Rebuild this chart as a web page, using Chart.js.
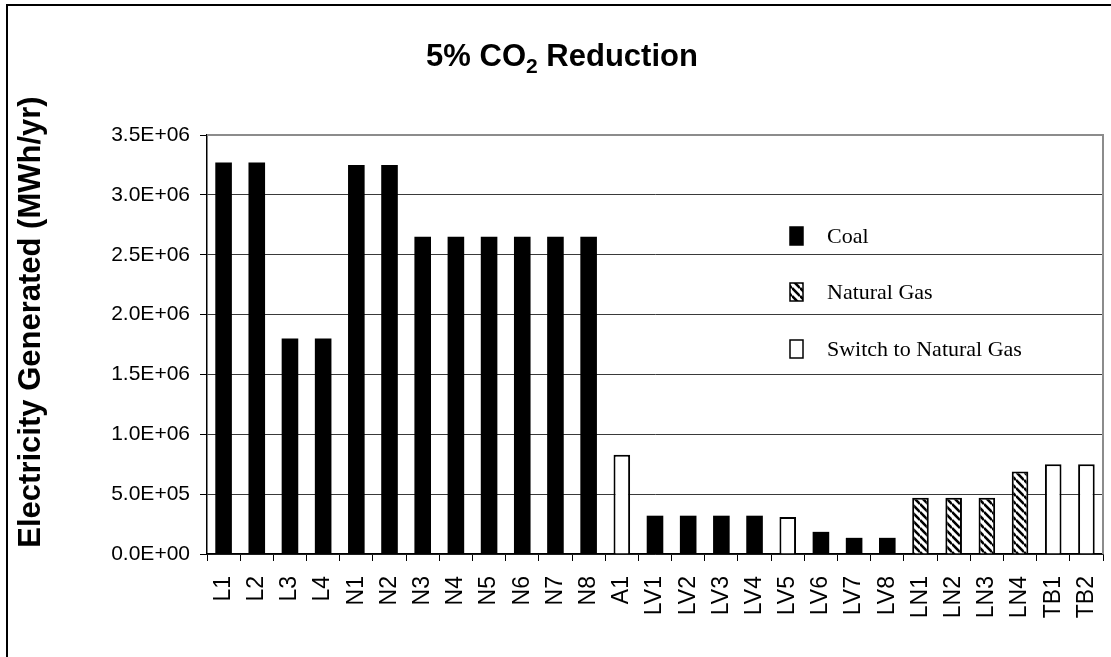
<!DOCTYPE html>
<html>
<head>
<meta charset="utf-8">
<script src="https://cdn.jsdelivr.net/npm/chart.js@4.4.1/dist/chart.umd.min.js"></script>
<style>
    html, body { margin: 0; padding: 0; background: #fff; overflow: hidden; }
    #wrap { position: relative; width: 1111px; height: 657px; }
    #frame { position: absolute; left: 6px; top: 4px; width: 1200px; height: 800px; border-left: 2px solid #000; border-top: 2px solid #000; }
    canvas { position: absolute; left: 0; top: 0; }
</style>
</head>
<body>
<div id="wrap">
    <div id="frame"></div>
    <canvas id="myChart" width="1111" height="657"></canvas>
</div>
<script>
const plants = ['L1', 'L2', 'L3', 'L4', 'N1', 'N2', 'N3', 'N4', 'N5', 'N6', 'N7', 'N8', 'A1',
    'LV1', 'LV2', 'LV3', 'LV4', 'LV5', 'LV6', 'LV7', 'LV8', 'LN1', 'LN2', 'LN3', 'LN4', 'TB1', 'TB2'];
const generated = [3.27e6, 3.27e6, 1.80e6, 1.80e6, 3.25e6, 3.25e6, 2.65e6, 2.65e6, 2.65e6, 2.65e6, 2.65e6, 2.65e6, 8.3e5,
    3.2e5, 3.2e5, 3.2e5, 3.2e5, 3.1e5, 1.85e5, 1.35e5, 1.35e5, 4.7e5, 4.7e5, 4.7e5, 6.9e5, 7.5e5, 7.5e5];
const fuel = ['coal', 'coal', 'coal', 'coal', 'coal', 'coal', 'coal', 'coal', 'coal', 'coal', 'coal', 'coal', 'switch',
    'coal', 'coal', 'coal', 'coal', 'switch', 'coal', 'coal', 'coal', 'gas', 'gas', 'gas', 'gas', 'switch', 'switch'];
const fuelTypes = ['coal', 'gas', 'switch'];
const fuelNames = ['Coal', 'Natural Gas', 'Switch to Natural Gas'];
const yTicks = [0, 5e5, 1e6, 1.5e6, 2e6, 2.5e6, 3e6, 3.5e6];

/**
 * 斜線のパターンを作成します。
 */
const createHatch = (ctx) => {
    const s = 8;
    const c = document.createElement('canvas');
    c.width = s;
    c.height = s;
    const p = c.getContext('2d');
    p.fillStyle = '#fff';
    p.fillRect(0, 0, s, s);
    p.strokeStyle = '#000';
    p.lineWidth = 2.6;
    [-1, 0, 1].forEach((k) => {
        p.beginPath();
        p.moveTo(0, k * s);
        p.lineTo(s, s + k * s);
        p.stroke();
    });
    return ctx.createPattern(c, 'repeat');
};

/**
 * 指数表記のラベルを作成します。
 */
const formatSci = (v) => {
    const parts = Number(v).toExponential(1).split('e');
    const sign = parts[1][0];
    const exp = parts[1].slice(1).padStart(2, '0');
    return parts[0] + 'E' + sign + exp;
};

const canvas = document.getElementById('myChart');
const hatch = createHatch(canvas.getContext('2d'));
const fills = { coal: '#000', gas: hatch, switch: '#fff' };

const datasets = fuelTypes.map((t, i) => ({
    label: fuelNames[i],
    data: generated.map((v, j) => (fuel[j] === t ? v : null)),
    backgroundColor: fills[t],
    borderColor: '#000',
    borderWidth: t === 'coal' ? 0 : 2,
    categoryPercentage: 1,
    barPercentage: 0.5,
}));

// タイトル・軸タイトル・凡例・枠の描画
const decorPlugin = {
    id: 'decor',
    afterDatasetsDraw(chart) {
        const ctx = chart.ctx;
        const a = chart.chartArea;
        ctx.save();
        ctx.strokeStyle = '#8c8c8c';
        ctx.lineWidth = 2;
        ctx.beginPath();
        ctx.moveTo(a.left, a.top);
        ctx.lineTo(a.right, a.top);
        ctx.lineTo(a.right, a.bottom);
        ctx.stroke();
        ctx.restore();
    },
    afterDraw(chart) {
        const ctx = chart.ctx;
        ctx.save();
        ctx.fillStyle = '#000';
        ctx.textBaseline = 'alphabetic';

        // title
        const big = 'bold 31px Arial, "Liberation Sans", sans-serif';
        const small = 'bold 21px Arial, "Liberation Sans", sans-serif';
        const pieces = [['5% CO', big, 0], ['2', small, 7], [' Reduction', big, 0]];
        let total = 0;
        pieces.forEach((p) => { ctx.font = p[1]; total += ctx.measureText(p[0]).width; });
        let x = 562 - total / 2;
        pieces.forEach((p) => {
            ctx.font = p[1];
            ctx.textAlign = 'left';
            ctx.fillText(p[0], x, 66 + p[2]);
            x += ctx.measureText(p[0]).width;
        });

        // y axis title
        ctx.save();
        ctx.translate(40, 322);
        ctx.rotate(-Math.PI / 2);
        ctx.font = 'bold 31px Arial, "Liberation Sans", sans-serif';
        ctx.textAlign = 'center';
        ctx.fillText('Electricity Generated (MWh/yr)', 0, 0);
        ctx.restore();

        // legend
        const legendY = [236, 292, 349];
        chart.data.datasets.forEach((ds, i) => {
            const cy = legendY[i];
            ctx.fillStyle = ds.backgroundColor;
            ctx.fillRect(790, cy - 9, 13, 18);
            ctx.strokeStyle = '#000';
            ctx.lineWidth = 1.5;
            ctx.strokeRect(790, cy - 9, 13, 18);
            ctx.fillStyle = '#000';
            ctx.font = '22px "Times New Roman", "Liberation Serif", serif';
            ctx.textAlign = 'left';
            ctx.textBaseline = 'middle';
            ctx.fillText(ds.label, 827, cy + 1);
        });
        ctx.restore();
    },
};

const chart = new Chart(canvas, {
    type: 'bar',
    data: { labels: plants, datasets: datasets },
    plugins: [decorPlugin],
    options: {
        responsive: false,
        animation: false,
        layout: { padding: { top: 135, right: 8, left: 0, bottom: 0 } },
        plugins: { legend: { display: false }, tooltip: { enabled: false }, title: { display: false } },
        scales: {
            x: {
                stacked: true,
                afterFit: (scale) => {
                    scale.height = 103;
                    scale.paddingLeft = 0;
                    scale.paddingRight = 0;
                },
                grid: { drawOnChartArea: false, offset: true, tickLength: 7, color: '#000', lineWidth: 1 },
                border: { color: '#000', width: 1.5 },
                ticks: {
                    minRotation: 90,
                    maxRotation: 90,
                    autoSkip: false,
                    padding: 15,
                    color: '#000',
                    font: { family: 'Arial, "Liberation Sans", sans-serif', size: 23 },
                },
            },
            y: {
                stacked: true,
                min: 0,
                max: 3.5e6,
                afterFit: (scale) => {
                    scale.width = 207;
                    scale.paddingTop = 0;
                    scale.paddingBottom = 0;
                },
                afterBuildTicks: (scale) => { scale.ticks = yTicks.map((v) => ({ value: v })); },
                grid: {
                    color: (c) => (c.tick && c.tick.value === 3.5e6 ? '#8c8c8c' : '#3a3a3a'),
                    tickColor: '#000',
                    tickLength: 7,
                    lineWidth: 1,
                },
                border: { color: '#000', width: 1.5 },
                ticks: {
                    padding: 10,
                    color: '#000',
                    font: { family: 'Arial, "Liberation Sans", sans-serif', size: 21 },
                    callback: (v) => formatSci(v),
                },
            },
        },
    },
});
</script>
</body>
</html>
